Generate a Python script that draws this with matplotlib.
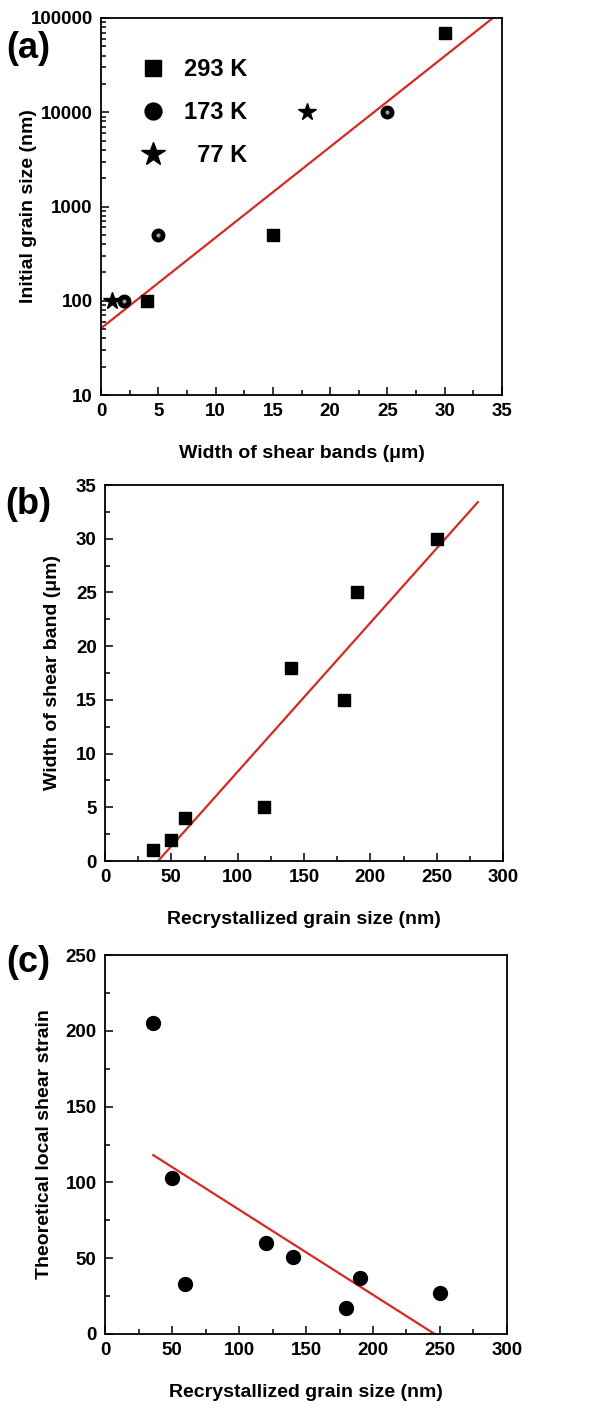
import numpy as np
from matplotlib import pyplot as plt
from matplotlib.ticker import MultipleLocator, LogLocator, NullFormatter

plt.rcParams['font.family'] = ['Liberation Sans', 'DejaVu Sans']
plt.rcParams['font.weight'] = 'bold'
plt.rcParams['axes.labelweight'] = 'bold'

# (a) initial grain size vs width of shear bands
sq_a_x = [4, 15, 30]
sq_a_y = [100, 500, 70000]
ci_a_x = [2, 5, 25]
ci_a_y = [100, 500, 10000]
st_a_x = [1, 18]
st_a_y = [100, 10000]
fit_a_x = [0, 34.2]
fit_a_y = [51, 100000]

# (b) width of shear band vs recrystallized grain size
gs = [36, 50, 60, 120, 140, 180, 190, 250]
width_b = [1, 2, 4, 5, 18, 15, 25, 30]
fit_b_x = [40, 281]
fit_b_y = [0, 33.4]

# (c) theoretical local shear strain
strain_c = [205, 103, 33, 60, 51, 17, 37, 27]
fit_c_x = [36, 246]
fit_c_y = [118, 0]

red = '#d42a25'
W, H = 612, 1406
fig = plt.figure(figsize=(W / 100, H / 100), dpi=100)

def box(l, t, r, b):
  return [l / W, 1 - b / H, (r - l) / W, (b - t) / H]

def style(ax):
  for s in ax.spines.values():
    s.set_linewidth(1.3)
  ax.tick_params(which='both', direction='in', top=False, right=False, labelsize=13.5, width=1.1)
  ax.tick_params(which='major', length=6, pad=6)
  ax.tick_params(which='minor', length=3.5)
  for lab in ax.get_xticklabels() + ax.get_yticklabels():
    lab.set_fontweight('bold')

# ---- (a)
ax1 = fig.add_axes(box(101, 18, 502, 395))
ax1.set_yscale('log')
ax1.plot(fit_a_x, fit_a_y, color=red, lw=1.6, zorder=1)
h1, = ax1.plot(sq_a_x, sq_a_y, 's', color='black', ms=9, ls='none')
h2, = ax1.plot(ci_a_x, ci_a_y, 'o', color='black', ms=9, ls='none')
ax1.plot(ci_a_x, ci_a_y, 'o', color='#999999', ms=3, ls='none', mew=0)
h3, = ax1.plot(st_a_x, st_a_y, '*', color='black', ms=13, ls='none')
ax1.set_xlim(0, 35)
ax1.set_ylim(10, 100000)
ax1.xaxis.set_major_locator(MultipleLocator(5))
ax1.xaxis.set_minor_locator(MultipleLocator(2.5))
ax1.yaxis.set_minor_locator(LogLocator(base=10, subs=np.arange(2, 10)))
ax1.yaxis.set_minor_formatter(NullFormatter())
ax1.set_yticks([10, 100, 1000, 10000, 100000])
ax1.set_yticklabels(['10', '100', '1000', '10000', '100000'])
ax1.set_xlabel('Width of shear bands (μm)', fontsize=14, labelpad=18)
ax1.set_ylabel('Initial grain size (nm)', fontsize=14, labelpad=-5)
ax1.legend([h1, h2, h3], ['293 K', '173 K', '  77 K'], loc='upper left',
           bbox_to_anchor=(0.10, 0.894), frameon=False, prop={'size': 17, 'weight': 'bold'},
           borderpad=0, borderaxespad=0, handlelength=1.0,
           handletextpad=0.8, labelspacing=0.85, markerscale=1.35)
style(ax1)

# ---- (b)
ax2 = fig.add_axes(box(105, 485, 503, 861))
ax2.plot(fit_b_x, fit_b_y, color=red, lw=1.6, zorder=1)
ax2.plot(gs, width_b, 's', color='black', ms=9, ls='none')
ax2.set_xlim(0, 300)
ax2.set_ylim(0, 35)
ax2.xaxis.set_major_locator(MultipleLocator(50))
ax2.xaxis.set_minor_locator(MultipleLocator(25))
ax2.yaxis.set_major_locator(MultipleLocator(5))
ax2.yaxis.set_minor_locator(MultipleLocator(2.5))
ax2.set_xlabel('Recrystallized grain size (nm)', fontsize=14, labelpad=18)
ax2.set_ylabel('Width of shear band (μm)', fontsize=14, labelpad=11)
style(ax2)

# ---- (c)
ax3 = fig.add_axes(box(105, 955, 507, 1334))
ax3.plot(fit_c_x, fit_c_y, color=red, lw=1.6, zorder=1)
ax3.plot(gs, strain_c, 'o', color='black', ms=10, ls='none')
ax3.set_xlim(0, 300)
ax3.set_ylim(0, 250)
ax3.xaxis.set_major_locator(MultipleLocator(50))
ax3.xaxis.set_minor_locator(MultipleLocator(25))
ax3.yaxis.set_major_locator(MultipleLocator(50))
ax3.yaxis.set_minor_locator(MultipleLocator(25))
ax3.set_xlabel('Recrystallized grain size (nm)', fontsize=14, labelpad=18)
ax3.set_ylabel('Theoretical local shear strain', fontsize=14, labelpad=9)
style(ax3)

# panel letters
for lbl, y in [('(a)', 48), ('(b)', 505), ('(c)', 962)]:
  fig.text(28 / W, 1 - y / H, lbl, fontsize=26, fontweight='bold', ha='center', va='center')

fig.savefig('out.png', dpi=100)
